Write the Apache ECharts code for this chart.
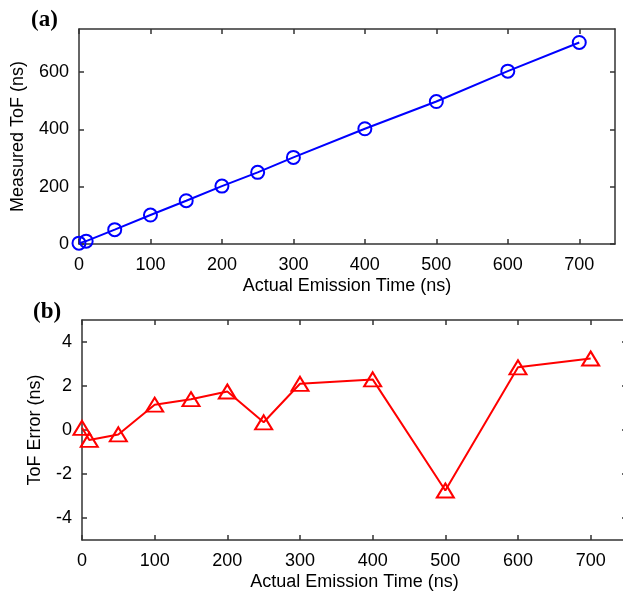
<!DOCTYPE html>
<html>
<head>
<meta charset="utf-8">
<script src="https://cdn.jsdelivr.net/npm/echarts@6/dist/echarts.min.js"></script>
<style>
html,body{margin:0;padding:0;background:#fff;}
#chart{width:623px;height:591px;}
</style>
</head>
<body>
<div id="chart"></div>
<script>
var emissionTime = [0, 10, 50, 100, 150, 200, 250, 300, 400, 500, 600, 700];
var measuredTof = [3, 10, 50, 101, 151, 202, 250, 302, 402, 497, 603, 703];
var tofError = [0.1, -0.45, -0.2, 1.15, 1.4, 1.75, 0.35, 2.1, 2.3, -2.75, 2.85, 3.25];

var xTicks = [0, 100, 200, 300, 400, 500, 600, 700];
var tofTicks = [0, 200, 400, 600];
var errorTicks = [-4, -2, 0, 2, 4];

var font = 'Liberation Sans, Arial, sans-serif';
var axisColor = '#333';

function xAxisCfg(grid, show) {
    return {
        type:'value', gridIndex:grid, min:0, max:750,
        position: show ? 'bottom' : 'top',
        name: show ? 'Actual Emission Time (ns)' : '',
        nameLocation:'middle', nameGap:33,
        nameTextStyle:{fontFamily:font, fontSize:18, color:'#000'},
        axisLine:{show:true, onZero:false, lineStyle:{color:axisColor, width:1.5}},
        axisTick:{show:true, inside:true, length:5, customValues:xTicks, lineStyle:{color:axisColor, width:1.5}},
        axisLabel:{show:show, customValues:xTicks, fontFamily:font, fontSize:18, color:'#000', margin:12},
        splitLine:{show:false}
    };
}

function yAxisCfg(grid, show, min, max, ticks, name, gap) {
    return {
        type:'value', gridIndex:grid, min:min, max:max,
        position: show ? 'left' : 'right',
        name: show ? name : '',
        nameLocation:'middle', nameGap:gap,
        nameTextStyle:{fontFamily:font, fontSize:18, color:'#000'},
        axisLine:{show:true, onZero:false, lineStyle:{color:axisColor, width:1.5}},
        axisTick:{show:true, inside:true, length:5, customValues:ticks, lineStyle:{color:axisColor, width:1.5}},
        axisLabel:{show:show, customValues:ticks, fontFamily:font, fontSize:18, color:'#000', margin:10},
        splitLine:{show:false}
    };
}

var myChart = echarts.init(document.getElementById('chart'));
var option = {
    animation:false,
    title:[
        {text:'(a)', left:26, top:4, textStyle:{fontFamily:'Liberation Serif, Times New Roman, serif', fontSize:23, fontWeight:'bold', color:'#000'}},
        {text:'(b)', left:28, top:296, textStyle:{fontFamily:'Liberation Serif, Times New Roman, serif', fontSize:23, fontWeight:'bold', color:'#000'}}
    ],
    grid:[
        {left:79, top:29, width:536, height:215, outerBoundsMode:'none'},
        {left:82, top:320, width:545, height:220, outerBoundsMode:'none'}
    ],
    xAxis:[
        xAxisCfg(0, true), xAxisCfg(0, false),
        xAxisCfg(1, true), xAxisCfg(1, false)
    ],
    yAxis:[
        yAxisCfg(0, true, 0, 750, tofTicks, 'Measured ToF (ns)', 52),
        yAxisCfg(0, false, 0, 750, tofTicks, '', 0),
        yAxisCfg(1, true, -5, 5, errorTicks, 'ToF Error (ns)', 38),
        yAxisCfg(1, false, -5, 5, errorTicks, '', 0)
    ],
    series:[
        {
            type:'line', xAxisIndex:0, yAxisIndex:0,
            data:emissionTime.map(function(t, i){ return [t, measuredTof[i]]; }),
            symbol:'circle', symbolSize:13, showAllSymbol:true,
            lineStyle:{color:'#0000ff', width:2},
            itemStyle:{color:'rgba(255,255,255,0)', borderColor:'#0000ff', borderWidth:2}
        },
        {
            type:'line', xAxisIndex:2, yAxisIndex:2,
            data:emissionTime.map(function(t, i){ return [t, tofError[i]]; }),
            symbol:'triangle', symbolSize:[17, 14], showAllSymbol:true,
            lineStyle:{color:'#ff0000', width:2},
            itemStyle:{color:'rgba(255,255,255,0)', borderColor:'#ff0000', borderWidth:2}
        }
    ]
};
myChart.setOption(option);
</script>
</body>
</html>
